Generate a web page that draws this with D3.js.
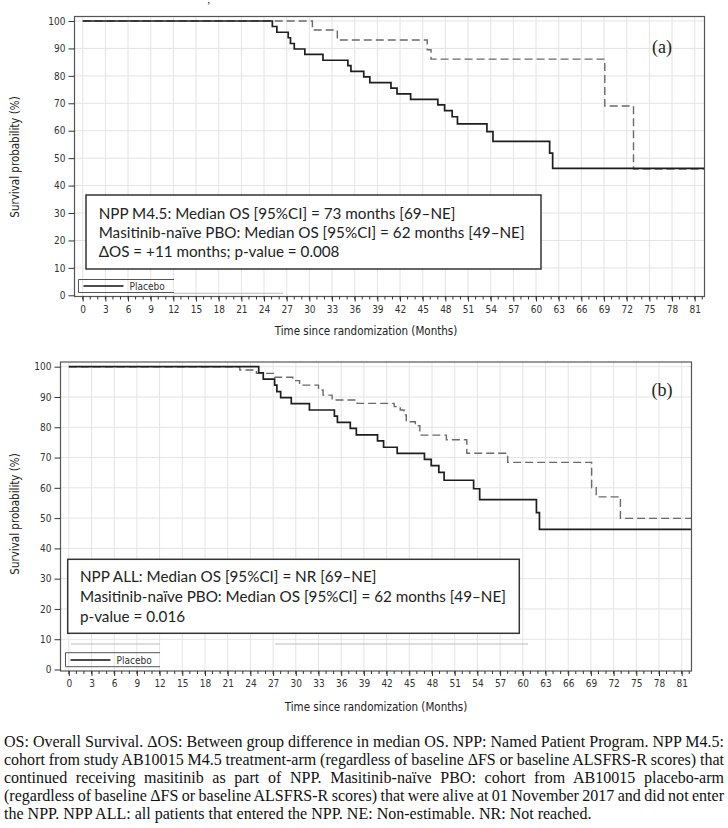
<!DOCTYPE html>
<html>
<head>
<meta charset="utf-8">
<script src="https://cdn.jsdelivr.net/npm/d3@7"></script>
<style>
  body { margin: 0; background: #fff; }
  svg { display: block; }
</style>
</head>
<body>
<svg id="chart" width="728" height="828"></svg>
<script>
/********************* Data *********************/
const xTicks = [0, 3, 6, 9, 12, 15, 18, 21, 24, 27, 30, 33, 36, 39, 42, 45, 48, 51, 54, 57, 60, 63, 66, 69, 72, 75, 78, 81];
const yTicks = [0, 10, 20, 30, 40, 50, 60, 70, 80, 90, 100];

// Masitinib-naive PBO (solid line, same cohort in both panels)
const pboTimes = [25.1, 25.7, 27.2, 27.5, 28.0, 29.4, 31.8, 35.1, 35.5, 37.2, 38.0, 40.8, 41.6, 43.4, 47.0, 47.9, 48.9, 49.6, 53.5, 54.3, 61.8, 62.2];
const pboSurv = [98.0, 95.9, 93.9, 91.8, 89.8, 87.8, 85.7, 83.7, 81.6, 79.6, 77.5, 75.5, 73.4, 71.4, 69.4, 67.3, 65.1, 62.5, 59.7, 56.1, 51.8, 46.3];

// NPP M4.5 (dashed line, panel a)
const m45Times = [30.4, 33.7, 45.6, 46.1, 69.1, 72.9];
const m45Surv = [96.7, 93.1, 89.5, 86.1, 69.0, 46.0];

// NPP ALL (dashed line, panel b)
const allTimes = [22.6, 24.8, 27.2, 29.6, 30.5, 33.0, 33.6, 34.8, 38.1, 43.0, 43.8, 44.3, 44.6, 45.8, 46.4, 49.9, 52.6, 58.0, 69.1, 69.7, 72.9];
const allSurv = [98.9, 97.8, 96.5, 95.4, 93.9, 92.3, 90.6, 89.0, 87.9, 86.8, 85.7, 84.1, 81.8, 80.5, 77.4, 75.9, 71.4, 68.4, 60.0, 57.0, 49.9];

const boxA = [
  "NPP M4.5: Median OS [95%CI] = 73 months [69\u2013NE]",
  "Masitinib-na\u00efve PBO: Median OS [95%CI] = 62 months [49\u2013NE]",
  "\u0394OS = +11 months; p-value = 0.008"
];
const boxB = [
  "NPP ALL: Median OS [95%CI] = NR [69\u2013NE]",
  "Masitinib-na\u00efve PBO: Median OS [95%CI] = 62 months [49\u2013NE]",
  "p-value = 0.016"
];
const caption = [
  "OS: Overall Survival. \u0394OS: Between group difference in median OS. NPP: Named Patient Program. NPP M4.5:",
  "cohort from study AB10015 M4.5 treatment-arm (regardless of baseline \u0394FS or baseline ALSFRS-R scores) that",
  "continued receiving masitinib as part of NPP. Masitinib-na\u00efve PBO: cohort from AB10015 placebo-arm",
  "(regardless of baseline \u0394FS or baseline ALSFRS-R scores) that were alive at 01 November 2017 and did not enter",
  "the NPP. NPP ALL: all patients that entered the NPP. NE: Non-estimable. NR: Not reached."
];

/********************* Layout *********************/
const narrow = "'Liberation Sans Narrow', 'Arial Narrow', 'DejaVu Sans Condensed', sans-serif";
const svg = d3.select("#chart");

const panels = [
  {
    frame: { l: 74.5, t: 16.5, r: 704.5, b: 296.5 },
    xr: [82.7, 694.7], yr: [295.3, 21],
    dashT: m45Times, dashS: m45Surv, lines: boxA, tag: "(a)", tagY: 47,
    xTitle: [366, 331], yTitle: [15, 157],
    box: { x: 86, y: 195, w: 455, h: 74, tx: 98.7, ty: [213.3, 232.7, 251.7] },
    leg: { l: 78.5, r: 174, t: 279.5, b: 292.5, ext: [[174, 283, 293.3]], y: 286 }
  },
  {
    frame: { l: 60.5, t: 362, r: 691.5, b: 671 },
    xr: [68.8, 681.7], yr: [669.5, 366.7],
    dashT: allTimes, dashS: allSurv, lines: boxB, tag: "(b)", tagY: 389.5,
    xTitle: [376, 707], yTitle: [15, 514],
    box: { x: 67.7, y: 559.3, w: 451.6, h: 74, tx: 80, ty: [576.7, 596.7, 616.7] },
    leg: { l: 65.5, r: 160, t: 652.7, b: 666.7, ext: [[71, 160, 644], [275, 528, 644]], y: 660 }
  }
];

panels.forEach((p) => {
  const f = p.frame;
  const x = d3.scaleLinear().domain([0, 81]).range(p.xr);
  const y = d3.scaleLinear().domain([0, 100]).range(p.yr);
  const xEnd = x.invert(f.r - 0.5);
  const g = svg.append("g");

  // grid
  g.append("g")
    .selectAll("line")
    .data(xTicks)
    .enter()
    .append("line")
    .attr("x1", (d) => x(d)).attr("x2", (d) => x(d))
    .attr("y1", f.t).attr("y2", f.b)
    .attr("stroke", "#e4e4e4");
  g.append("g")
    .selectAll("line")
    .data(yTicks.slice(1))
    .enter()
    .append("line")
    .attr("x1", f.l).attr("x2", f.r)
    .attr("y1", (d) => y(d)).attr("y2", (d) => y(d))
    .attr("stroke", "#e4e4e4");

  // survival curves
  const line = d3.line()
    .x((d) => x(d[0]))
    .y((d) => y(d[1]))
    .curve(d3.curveStepAfter);
  const steps = (ts, ss) => [[0, 100]].concat(ts.map((t, i) => [t, ss[i]]), [[xEnd, ss[ss.length - 1]]]);

  g.append("path")
    .attr("d", line(steps(p.dashT, p.dashS)))
    .attr("fill", "none")
    .attr("stroke", "#6a6a6a")
    .attr("stroke-width", 1.4)
    .attr("stroke-dasharray", "8,4");
  g.append("path")
    .attr("d", line(steps(pboTimes, pboSurv)))
    .attr("fill", "none")
    .attr("stroke", "#1e1e1e")
    .attr("stroke-width", 1.7);

  // annotation box
  const b = p.box;
  g.append("rect")
    .attr("x", b.x).attr("y", b.y).attr("width", b.w).attr("height", b.h)
    .attr("fill", "#fff").attr("stroke", "#333").attr("stroke-width", 1.5);
  const bt = g.append("g")
    .attr("font-family", "Lato, 'Open Sans', sans-serif")
    .attr("font-size", 16)
    .attr("fill", "#222");
  bt.selectAll("text")
    .data(p.lines)
    .enter()
    .append("text")
    .attr("x", b.tx)
    .attr("y", (d, i) => b.ty[i])
    .attr("dy", "0.35em")
    .text((d) => d);
  // fit font so the long middle line spans the same width as in the figure
  const w = bt.selectAll("text").nodes()[1].getComputedTextLength();
  bt.attr("font-size", (16 * 426) / w);

  // legend remnant
  const L = p.leg;
  g.append("path")
    .attr("d", `M${L.r},${L.t}H${L.l}V${L.b}H${L.r}`)
    .attr("fill", "none").attr("stroke", "#555").attr("stroke-width", 1);
  L.ext.forEach((e) => {
    g.append("line")
      .attr("x1", e[0]).attr("x2", e[1]).attr("y1", e[2]).attr("y2", e[2])
      .attr("stroke", "#bbb");
  });
  g.append("line")
    .attr("x1", L.l + 5).attr("x2", L.l + 45).attr("y1", L.y).attr("y2", L.y)
    .attr("stroke", "#111").attr("stroke-width", 1.6);
  g.append("text")
    .attr("x", L.l + 51).attr("y", L.y).attr("dy", "0.35em")
    .attr("font-family", narrow).attr("font-size", 10).attr("fill", "#333")
    .text("Placebo");

  // frame
  g.append("rect")
    .attr("x", f.l).attr("y", f.t).attr("width", f.r - f.l).attr("height", f.b - f.t)
    .attr("fill", "none").attr("stroke", "#555").attr("stroke-width", 1.2);

  // axes
  const xAxis = g.append("g")
    .attr("transform", `translate(0,${f.b})`)
    .call(d3.axisBottom(x).tickValues(xTicks).tickSize(5).tickPadding(4));
  xAxis.append("g")
    .selectAll("line")
    .data(d3.range(0, 83))
    .enter()
    .append("line")
    .attr("x1", (d) => x(d)).attr("x2", (d) => x(d))
    .attr("y1", 0).attr("y2", 3)
    .attr("stroke", "#333");
  const yAxis = g.append("g")
    .attr("transform", `translate(${f.l},0)`)
    .call(d3.axisLeft(y).tickValues(yTicks).tickSize(6).tickPadding(3));
  [xAxis, yAxis].forEach((a) => {
    a.select(".domain").remove();
    a.selectAll(".tick line").attr("stroke", "#333");
    a.selectAll("text").attr("font-family", narrow).attr("font-size", 10).attr("fill", "#333");
  });

  // titles
  g.append("text")
    .attr("x", p.xTitle[0]).attr("y", p.xTitle[1]).attr("dy", "0.35em")
    .attr("text-anchor", "middle")
    .attr("font-family", narrow).attr("font-size", 11.5).attr("fill", "#222")
    .text("Time since randomization (Months)");
  g.append("text")
    .attr("transform", `translate(${p.yTitle[0]},${p.yTitle[1]}) rotate(-90)`)
    .attr("dy", "0.35em")
    .attr("text-anchor", "middle")
    .attr("font-family", narrow).attr("font-size", 11.5).attr("fill", "#222")
    .text("Survival probability (%)");
  g.append("text")
    .attr("x", 662).attr("y", p.tagY).attr("dy", "0.35em")
    .attr("text-anchor", "middle")
    .attr("font-family", "'Liberation Serif', serif").attr("font-size", 18).attr("fill", "#222")
    .text(p.tag);
});

// stray mark above panel (a)
svg.append("text")
  .attr("x", 207).attr("y", 9)
  .attr("font-family", "'Liberation Serif', serif").attr("font-size", 10)
  .text("\u2019");

/********************* Caption (justified lines) *********************/
const cap = svg.append("g")
  .attr("font-family", "'Liberation Serif', 'Times New Roman', serif")
  .attr("font-size", 15)
  .attr("fill", "#111");
const capText = caption.map((t, i) =>
  cap.append("text")
    .attr("x", 4)
    .attr("y", 741 + i * 18)
    .attr("dy", "0.35em")
    .text(t)
);
// size the font so the unjustified last line ends where it does in the figure
const lastLen = capText[capText.length - 1].node().getComputedTextLength();
cap.attr("font-size", (15 * 588) / lastLen);
capText.forEach((tx, i) => {
  if (i === capText.length - 1) return;
  const len = tx.node().getComputedTextLength();
  const spaces = caption[i].split(" ").length - 1;
  tx.attr("word-spacing", (720 - len) / spaces);
});
</script>
</body>
</html>
